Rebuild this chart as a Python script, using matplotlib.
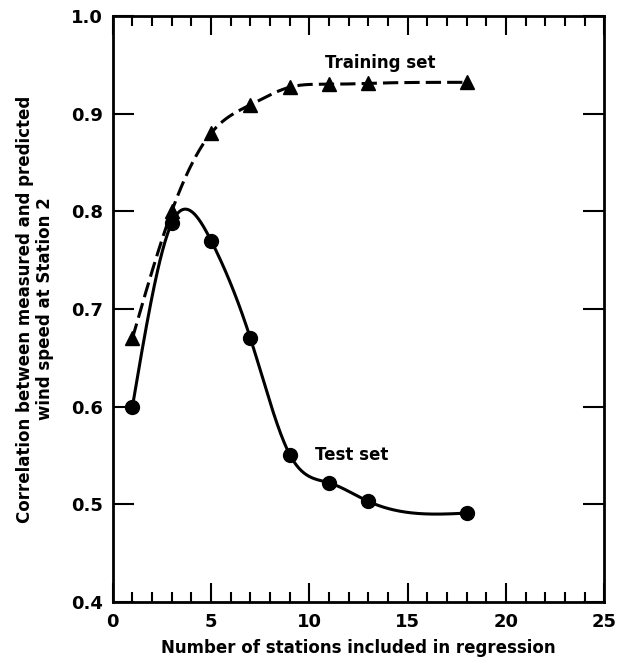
import numpy as np
import matplotlib
matplotlib.use("Agg")
import matplotlib.pyplot as plt
from matplotlib.ticker import MultipleLocator

# stations included in regression
stations = [1, 3, 5, 7, 9, 11, 13, 18]
training = [0.67, 0.80, 0.880, 0.909, 0.927, 0.930, 0.931, 0.932]
test = [0.60, 0.788, 0.770, 0.670, 0.551, 0.522, 0.503, 0.491]


def natural_spline(x, y, xs):
    '''natural cubic spline through (x, y), evaluated at xs'''
    x = np.asarray(x, float)
    y = np.asarray(y, float)
    n = len(x)
    h = np.diff(x)
    A = np.zeros((n, n))
    b = np.zeros(n)
    A[0, 0] = 1
    A[-1, -1] = 1
    for i in range(1, n - 1):
        A[i, i - 1] = h[i - 1]
        A[i, i] = 2 * (h[i - 1] + h[i])
        A[i, i + 1] = h[i]
        b[i] = 6 * ((y[i + 1] - y[i]) / h[i] - (y[i] - y[i - 1]) / h[i - 1])
    M = np.linalg.solve(A, b)
    idx = np.clip(np.searchsorted(x, xs) - 1, 0, n - 2)
    x0, x1 = x[idx], x[idx + 1]
    hh = x1 - x0
    t0 = x1 - xs
    t1 = xs - x0
    return (M[idx] * t0**3 / (6 * hh) + M[idx + 1] * t1**3 / (6 * hh)
            + (y[idx] / hh - M[idx] * hh / 6) * t0
            + (y[idx + 1] / hh - M[idx + 1] * hh / 6) * t1)


plt.rcParams['font.family'] = ['DejaVu Sans']
plt.rcParams['font.weight'] = 'bold'

fig = plt.figure(figsize=(6.23, 6.63), dpi=100)
ax = fig.add_axes([0.181, 0.092, 0.789, 0.884])

xs = np.linspace(stations[0], stations[-1], 400)
ax.plot(xs, natural_spline(stations, training, xs), color='black', lw=2.2,
        dashes=(5, 2))
ax.plot(stations, training, linestyle='none', marker='^', color='black',
        markersize=10.5)
ax.plot(xs, natural_spline(stations, test, xs), color='black', lw=2.2)
ax.plot(stations, test, linestyle='none', marker='o', color='black',
        markersize=10)

ax.text(13.6, 0.952, "Training set", ha='center', va='center', fontsize=12,
        fontweight='bold')
ax.text(10.3, 0.551, "Test set", ha='left', va='center', fontsize=12,
        fontweight='bold')

ax.set_xlim(0, 25)
ax.set_ylim(0.4, 1.0)
ax.xaxis.set_major_locator(MultipleLocator(5))
ax.xaxis.set_minor_locator(MultipleLocator(1))
ax.yaxis.set_major_locator(MultipleLocator(0.1))
ax.tick_params(axis='x', which='major', direction='in', length=14, width=1.5,
               top=True, pad=8, labelsize=13)
ax.tick_params(axis='x', which='minor', direction='in', length=7, width=1.5,
               top=True)
ax.tick_params(axis='y', which='major', direction='in', length=15, width=1.5,
               right=True, pad=7, labelsize=13)
for s in ax.spines.values():
    s.set_linewidth(2)

ax.set_xlabel("Number of stations included in regression", fontsize=12,
              fontweight='bold', labelpad=6)
ax.set_ylabel("Correlation between measured and predicted\nwind speed at Station 2",
              fontsize=12, fontweight='bold', labelpad=12)

fig.savefig("out.png", dpi=100)
